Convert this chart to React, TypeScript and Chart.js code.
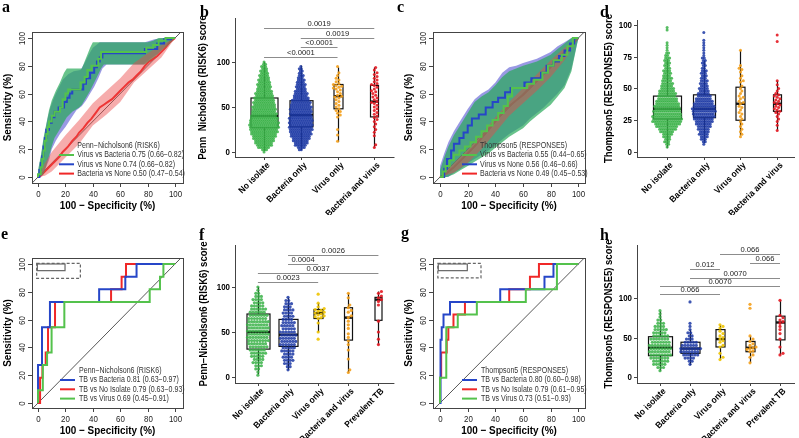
import React, { useEffect, useRef } from "react";
import { Chart, registerables } from "chart.js";
Chart.register(...registerables);

type Pt = [number, number];
type Box5 = [number, number, number, number, number]; // lo, q1, median, q3, hi
interface Profile { start: number; step: number; counts: number[] }

// ---------------- shared data ----------------
const rocTicks = [0, 20, 40, 60, 80, 100];
const catsAll = ["No isolate", "Bacteria only", "Virus only", "Bacteria and virus"];
const catsTB = ["No isolate", "Bacteria only", "Virus only", "Bacteria and virus", "Prevalent TB"];

// ---------------- panel a (RISK6 ROC, all) ----------------
const rocA_virusBacteria: Pt[] = [[0,0],[0,2],[2,2],[2,7],[3,7],[3,13],[4,13],[4,19],[5,19],[5,26],[6,26],[6,31],[7,31],[7,36],[8,36],[8,40],[10,40],[10,44],[12,44],[12,47],[16,47],[16,50],[18,50],[18,56],[20,56],[20,60],[22,60],[22,63],[31,63],[31,68],[34,68],[34,72],[36,72],[36,77],[39,77],[39,80],[44,80],[44,85],[46,85],[46,90],[79,90],[79,93],[84,93],[84,95],[88,95],[88,98],[93,98],[93,100],[100,100]];
const rocA_virusNone: Pt[] = [[0,0],[1,0],[1,5],[2,5],[2,10],[3,10],[3,15],[4,15],[4,22],[5,22],[5,28],[6,28],[6,34],[8,34],[8,39],[10,39],[10,43],[12,43],[12,47],[15,47],[15,50],[19,50],[19,54],[21,54],[21,57],[23,57],[23,60],[25,60],[25,63],[33,63],[33,67],[35,67],[35,71],[38,71],[38,75],[41,75],[41,79],[43,79],[43,83],[45,83],[45,86],[47,86],[47,89],[78,89],[78,92],[87,92],[87,96],[92,96],[92,99],[97,99],[97,100],[100,100]];
const rocA_bacteriaNone: Pt[] = [[0,0],[2,1],[4,3],[6,5],[8,7],[10,9],[12,11],[14,13],[16,15],[18,18],[20,20],[22,22],[25,26],[28,29],[30,32],[33,35],[36,39],[39,42],[42,46],[45,50],[48,52],[51,54],[54,56],[57,59],[60,62],[63,65],[66,68],[69,70],[72,73],[75,76],[78,80],[81,83],[84,85],[87,87],[90,90],[93,93],[96,97],[100,100]];
const bandA_virusBacteria_up: Pt[] = [[0,0],[0,5],[2,15],[4,28],[6,38],[8,48],[10,55],[13,62],[16,68],[19,75],[21,78],[32,78],[34,83],[36,88],[38,93],[40,97],[80,97],[84,98],[88,100],[100,100]];
const bandA_virusBacteria_lo: Pt[] = [[0,0],[4,2],[6,8],[8,15],[10,22],[12,28],[15,33],[18,38],[21,43],[25,47],[30,50],[32,52],[35,57],[38,62],[40,66],[43,72],[46,78],[48,81],[78,81],[82,84],[86,87],[90,91],[95,95],[100,100]];
const bandA_virusNone_up: Pt[] = [[0,0],[1,8],[3,20],[5,32],[7,42],[9,50],[12,58],[15,64],[18,70],[22,74],[26,76],[31,77],[34,82],[37,88],[40,93],[45,97],[78,97],[85,99],[92,100],[100,100]];
const bandA_virusNone_lo: Pt[] = [[0,0],[3,1],[5,5],[8,12],[10,20],[13,26],[16,31],[20,36],[24,42],[28,48],[32,51],[35,55],[38,60],[41,65],[44,71],[47,78],[50,81],[77,81],[82,85],[88,89],[93,94],[100,100]];
const bandA_bacteriaNone_up: Pt[] = [[0,0],[5,10],[10,18],[20,30],[30,41],[40,53],[50,62],[60,71],[70,82],[80,89],[90,95],[100,100]];
const bandA_bacteriaNone_lo: Pt[] = [[0,0],[5,1],[10,4],[20,14],[30,24],[40,37],[50,45],[60,54],[70,68],[80,77],[90,86],[100,100]];
const legendA = ["Virus vs Bacteria 0.75 (0.66\u22120.82)", "Virus vs None 0.74 (0.66\u22120.82)", "Bacteria vs None 0.50 (0.47\u22120.54)"];

// ---------------- panel c (RESPONSE5 ROC, all) ----------------
const rocC_virusBacteria: Pt[] = [[0,0],[2,0],[2,4],[4,4],[4,8],[7,8],[7,12],[10,12],[10,16],[14,16],[14,19],[18,19],[18,22],[22,22],[22,25],[26,25],[26,29],[30,29],[30,33],[34,33],[34,37],[38,37],[38,41],[42,41],[42,46],[46,46],[46,51],[49,51],[49,58],[52,58],[52,64],[63,64],[63,67],[68,67],[68,70],[74,70],[74,75],[78,75],[78,80],[82,80],[82,84],[88,84],[88,88],[92,88],[92,94],[96,94],[96,100],[100,100]];
const rocC_virusNone: Pt[] = [[0,0],[3,0],[3,6],[5,6],[5,13],[8,13],[8,19],[10,19],[10,24],[14,24],[14,28],[17,28],[17,32],[20,32],[20,37],[23,37],[23,42],[28,42],[28,45],[33,45],[33,50],[38,50],[38,54],[42,54],[42,57],[47,57],[47,61],[51,61],[51,64],[61,64],[61,68],[66,68],[66,71],[73,71],[73,75],[77,75],[77,80],[82,80],[82,83],[86,83],[86,87],[90,87],[90,91],[94,91],[94,96],[97,96],[97,100],[100,100]];
const rocC_bacteriaNone: Pt[] = [[0,0],[5,3],[10,7],[15,12],[20,17],[25,22],[30,28],[35,34],[40,40],[45,46],[50,51],[55,55],[60,59],[65,64],[70,69],[75,74],[80,79],[85,85],[90,90],[95,95],[100,100]];
const bandC_virusBacteria_up: Pt[] = [[0,0],[0,5],[3,14],[6,22],[10,30],[15,38],[20,46],[25,54],[30,58],[35,61],[40,66],[45,72],[50,76],[55,78],[60,80],[70,83],[80,88],[85,92],[90,96],[95,100],[100,100]];
const bandC_virusBacteria_lo: Pt[] = [[0,0],[5,0],[10,2],[15,5],[20,8],[25,11],[30,14],[35,17],[40,21],[45,25],[50,29],[55,32],[60,35],[65,40],[70,44],[75,48],[80,52],[85,58],[90,64],[95,76],[100,100]];
const bandC_virusNone_up: Pt[] = [[0,0],[0,8],[3,17],[6,25],[10,33],[15,41],[20,49],[25,56],[30,60],[35,63],[40,68],[45,75],[50,79],[55,80],[60,82],[70,85],[80,90],[85,94],[90,97],[95,100],[100,100]];
const bandC_virusNone_lo: Pt[] = [[0,0],[6,0],[10,3],[15,6],[20,10],[25,13],[30,16],[35,19],[40,23],[45,27],[50,31],[55,34],[60,37],[65,42],[70,46],[75,50],[80,55],[85,60],[90,66],[95,78],[100,100]];
const bandC_bacteriaNone_up: Pt[] = [[0,0],[10,10],[20,20],[30,31],[40,43],[50,54],[60,64],[70,74],[80,84],[90,93],[100,100]];
const bandC_bacteriaNone_lo: Pt[] = [[0,0],[10,3],[20,10],[30,20],[40,32],[50,44],[60,53],[70,62],[80,72],[90,84],[100,100]];
const legendC = ["Virus vs Bacteria 0.55 (0.44\u22120.65)", "Virus vs None 0.56 (0.46\u22120.66)", "Bacteria vs None 0.49 (0.45\u22120.53)"];

// ---------------- panel e (RISK6 ROC, TB) ----------------
const rocE_tbBacteria: Pt[] = [[0,0],[0,27.3],[2.9,27.3],[2.9,54.5],[8.7,54.5],[8.7,72.7],[44.6,72.7],[44.6,81.8],[63.7,81.8],[63.7,90.9],[71.9,90.9],[71.9,100],[100,100]];
const rocE_tbNoIsolate: Pt[] = [[0,0],[1.5,0],[1.5,18.2],[3.2,18.2],[3.2,27.3],[5.6,27.3],[5.6,36.4],[7.3,36.4],[7.3,54.5],[12.4,54.5],[12.4,72.7],[53.3,72.7],[53.3,81.8],[61,81.8],[61,90.9],[64.2,90.9],[64.2,100],[100,100]];
const rocE_tbVirus: Pt[] = [[0,0],[0,9.1],[3.5,9.1],[3.5,27.3],[6.6,27.3],[6.6,36.4],[9.9,36.4],[9.9,54.5],[19.2,54.5],[19.2,72.7],[81.5,72.7],[81.5,81.8],[89,81.8],[89,90.9],[91.5,90.9],[91.5,100],[100,100]];
const legendE = ["TB vs Bacteria 0.81 (0.63\u22120.97)", "TB vs No Isolate 0.79 (0.63\u22120.93)", "TB vs Virus 0.69 (0.45\u22120.91)"];

// ---------------- panel g (RESPONSE5 ROC, TB) ----------------
const rocG_tbBacteria: Pt[] = [[0,0],[0,18.2],[0.5,18.2],[0.5,45.5],[1.2,45.5],[1.2,54.5],[2.5,54.5],[2.5,63.6],[7.2,63.6],[7.2,72.7],[43.5,72.7],[43.5,81.8],[75.5,81.8],[75.5,90.9],[82,90.9],[82,100],[100,100]];
const rocG_tbNoIsolate: Pt[] = [[0,0],[0,18.2],[0.8,18.2],[0.8,36.4],[4.8,36.4],[4.8,45.5],[6,45.5],[6,54.5],[9.7,54.5],[9.7,63.6],[18,63.6],[18,72.7],[50,72.7],[50,81.8],[65,81.8],[65,90.9],[71.5,90.9],[71.5,100],[100,100]];
const rocG_tbVirus: Pt[] = [[0,0],[0,18.2],[4.5,18.2],[4.5,54.5],[12.8,54.5],[12.8,63.6],[26.6,63.6],[26.6,72.7],[62,72.7],[62,81.8],[84.5,81.8],[84.5,100],[100,100]];
const legendG = ["TB vs Bacteria 0.80 (0.60\u22120.98)", "TB vs No Isolate 0.79 (0.61\u22120.95)", "TB vs Virus 0.73 (0.51\u22120.93)"];

// inset rectangles (data units: x1, y1, x2, y2)
const insetSolidE = [-0.5, 95.2, 19.7, 100];
const insetDashedE = [-1, 89.7, 30.9, 100.5];
const insetSolidG = [-1.3, 95.2, 19.7, 100];
const insetDashedG = [-1.6, 90, 29.6, 100.5];

// ---------------- panel b (RISK6 score, all) ----------------
const riskAll_noIsolate: Profile = { start: 0, step: 2.5, counts: [1,3,6,8,9,10,11,12,13,14,14,15,15,15,14,14,13,13,12,12,12,11,11,10,10,9,9,8,7,7,7,6,6,5,5,4,4,3,3,2,1] };
const riskAll_bacteriaOnly: Profile = { start: 2.5, step: 2.5, counts: [2,4,6,7,8,9,10,11,11,12,12,12,12,12,12,11,11,11,11,11,10,10,9,8,7,7,6,5,5,5,4,4,3,3,2,2,2,1] };
const riskAll_virusOnly = [95, 88, 85, 82, 80, 78, 76, 75, 74, 73, 72, 71, 70, 69, 67, 65, 63, 62, 61, 60, 58, 56, 54, 52, 50, 48, 46, 45, 43, 41, 39, 25, 19, 12];
const riskAll_bacteriaVirus = [94, 91, 88, 86, 84, 82, 80, 78, 76, 75, 74, 72, 70, 68, 67, 65, 63, 61, 60, 58, 56, 55, 54, 52, 50, 48, 46, 44, 42, 40, 38, 36, 34, 31, 28, 25, 22, 18, 8, 5];
const riskAll_boxes: Box5[] = [[1, 27, 40, 60, 100], [2, 28, 41, 57, 96], [11, 48, 62, 75, 94], [5, 39, 56, 74, 94]];
const riskAll_ticks = [0, 50, 100];
const riskAll_sig = [
  { from: 1, to: 3, y: 106, label: "<0.0001" },
  { from: 2, to: 3, y: 116.5, label: "<0.0001" },
  { from: 2, to: 4, y: 127, label: "0.0019" },
  { from: 1, to: 4, y: 137.5, label: "0.0019" },
];

// ---------------- panel d (RESPONSE5 score, all) ----------------
const thAll_noIsolate: Profile = { start: 4, step: 2, counts: [1,2,3,3,4,5,7,9,11,13,15,15,15,14,14,13,13,12,11,10,9,9,8,7,6,6,5,5,4,4,4,3,3,3,3,3,2,2,1,1,1,1,0,0,0,0,1,1] };
const thAll_bacteriaOnly: Profile = { start: 6, step: 2, counts: [1,2,3,4,5,5,6,7,8,9,10,11,11,12,12,11,10,9,8,7,6,5,5,4,4,4,3,3,3,3,2,2,2,2,2,1,1,1,1,1,1,1,0,0,1] };
const thAll_virusOnly = [80, 68, 66, 65, 63, 60, 58, 56, 55, 52, 50, 48, 46, 44, 43, 42, 40, 39, 38, 36, 35, 33, 31, 30, 28, 26, 24, 22, 20, 18, 16, 14, 12];
const thAll_bacteriaVirus = [92, 87, 56, 53, 50, 48, 46, 45, 44, 43, 42, 41, 40, 39, 38, 37, 36, 35, 34, 33, 32, 31, 30, 28, 26, 24, 21, 17];
const thAll_boxes: Box5[] = [[3, 26, 34, 44, 73], [7, 27, 34, 45, 72], [13, 25, 38, 51, 80], [17, 32, 38, 45, 56]];
const thAll_ticks = [0, 25, 50, 75, 100];

// ---------------- panel f (RISK6 score, TB) ----------------
const riskTB_noIsolate: Profile = { start: 2, step: 3.5, counts: [1,1,2,3,4,4,5,6,6,7,7,8,8,8,8,8,8,8,7,7,6,6,5,4,4,3,2,1,1] };
const riskTB_bacteriaOnly: Profile = { start: 8, step: 3.5, counts: [1,2,3,4,4,4,5,5,6,6,6,6,6,5,5,5,4,4,4,4,3,3,2,1] };
const riskTB_virusOnly = [92, 82, 78, 76, 75, 74, 73, 72, 71, 70, 69, 68, 67, 66, 65, 60, 50, 42];
const riskTB_bacteriaVirus = [93, 88, 80, 77, 74, 72, 68, 66, 62, 58, 54, 48, 44, 40, 36, 30, 20, 8, 5];
const riskTB_prevalentTB = [95, 93, 90, 88, 86, 84, 80, 62, 50, 42, 36];
const riskTB_boxes: Box5[] = [[3, 31, 50, 70, 100], [8, 34, 47, 64, 88], [50, 65, 71, 75, 82], [5, 41, 66, 77, 93], [36, 63, 86, 88.5, 95]];
const riskTB_ticks = [0, 50, 100];
const riskTB_sig = [
  { from: 1, to: 3, y: 105.5, label: "0.0023" },
  { from: 1, to: 5, y: 115.5, label: "0.0037" },
  { from: 2, to: 3, y: 125.5, label: "0.0004" },
  { from: 2, to: 5, y: 135.5, label: "0.0026" },
];

// ---------------- panel h (RESPONSE5 score, TB) ----------------
const thTB_noIsolate: Profile = { start: 8, step: 4, counts: [1,3,5,6,7,8,8,8,8,7,7,6,5,5,4,3,2,1,1,1] };
const thTB_bacteriaOnly: Profile = { start: 16, step: 4, counts: [1,2,4,6,7,8,6,5,3,2,2,1,1,1] };
const thTB_bacteriaOnlyOutliers = [95];
const thTB_virusOnly = [66, 64, 62, 58, 55, 52, 50, 48, 46, 44, 40, 38, 30, 25, 22];
const thTB_bacteriaVirus = [92, 87, 52, 48, 45, 42, 40, 38, 37, 36, 35, 33, 32, 28, 25, 18];
const thTB_prevalentTB = [97, 78, 75, 72, 70, 68, 64, 60, 55, 48, 38, 30, 28];
const thTB_boxes: Box5[] = [[8, 27, 37, 51, 83], [15, 30, 36, 44, 60], [22, 38, 48, 60, 66], [18, 32, 37, 45, 52], [28, 47, 69, 77, 97]];
const thTB_ticks = [0, 50, 100];
const thTB_sig = [
  { from: 1, to: 3, y: 105, label: "0.066" },
  { from: 1, to: 5, y: 115, label: "0.0070" },
  { from: 2, to: 5, y: 125.3, label: "0.0070" },
  { from: 2, to: 3, y: 136.7, label: "0.012" },
  { from: 4, to: 5, y: 144.5, label: "0.066" },
  { from: 3, to: 5, y: 155.7, label: "0.066" },
];

// ---------------- styles ----------------
const SANS = "'Liberation Sans', Arial, Helvetica, sans-serif";
const SERIF = "'Liberation Serif', 'Times New Roman', serif";
const C_GREEN = "rgba(58,178,72,0.85)";
const C_BLUE = "rgba(28,56,165,0.85)";
const C_ORANGE = "rgba(244,160,28,0.9)";
const C_RED = "rgba(228,26,34,0.9)";
const C_YELLOW = "rgba(240,196,0,0.9)";
const L_GREEN = "rgb(84,194,76)";
const L_BLUE = "rgb(38,70,200)";
const L_RED = "rgb(240,40,40)";
const B_GREEN = "rgba(40,170,90,0.7)";
const B_BLUE = "rgba(70,70,205,0.55)";
const B_RED = "rgba(236,70,70,0.45)";

interface Rect { left: number; top: number; width: number; height: number }
interface Area { l: number; t: number; r: number; b: number }

function drawText(ctx: CanvasRenderingContext2D, s: string, x: number, y: number, font: string,
  o: { align?: CanvasTextAlign; base?: CanvasTextBaseline; rot?: number; sx?: number; color?: string } = {}) {
  ctx.save();
  ctx.translate(x, y);
  if (o.rot) ctx.rotate(o.rot);
  ctx.scale(o.sx ?? 1, 1);
  ctx.font = font;
  ctx.fillStyle = o.color ?? "#000";
  ctx.textAlign = o.align ?? "left";
  ctx.textBaseline = o.base ?? "alphabetic";
  ctx.fillText(s, 0, 0);
  ctx.restore();
}

function line(ctx: CanvasRenderingContext2D, x1: number, y1: number, x2: number, y2: number) {
  ctx.beginPath();
  ctx.moveTo(x1, y1);
  ctx.lineTo(x2, y2);
  ctx.stroke();
}

function padding(cv: Rect, a: Area) {
  return { left: a.l - cv.left, top: a.t - cv.top, right: cv.left + cv.width - a.r, bottom: cv.top + cv.height - a.b };
}

// ---------------- ROC panel ----------------
interface RocSpec {
  canvas: Rect; area: Area; xRange: [number, number]; yRange: [number, number];
  letter: string; letterPos: [number, number];
  curves: { pts: Pt[]; color: string; order: number }[];
  bands: { up: Pt[]; lo: Pt[]; color: string; order: number }[];
  legendTitle: string; legend: { text: string; color: string }[];
  legendX: number; segX: [number, number];
  inset?: { solid: number[]; dashed: number[] };
}

function RocPanel({ spec }: { spec: RocSpec }) {
  const ref = useRef<HTMLCanvasElement>(null);
  useEffect(() => {
    const cv = spec.canvas;
    const ox = cv.left, oy = cv.top;
    const datasets: any[] = [];
    spec.curves.forEach((c) => datasets.push({
      data: c.pts.map(([x, y]) => ({ x, y })), borderColor: c.color, borderWidth: 2, pointRadius: 0,
      fill: false, tension: 0, order: c.order, borderJoinStyle: "miter", borderCapStyle: "butt",
    }));
    spec.bands.forEach((b) => datasets.push({
      data: [...b.up, ...b.lo.slice().reverse()].map(([x, y]) => ({ x, y })), borderWidth: 0,
      borderColor: "rgba(0,0,0,0)", backgroundColor: b.color, fill: "shape", pointRadius: 0, tension: 0, order: b.order,
    }));
    const plugin = {
      id: "rocDecor",
      beforeDatasetsDraw(chart: any) {
        const { ctx, chartArea: a, scales: { x, y } } = chart;
        ctx.save();
        ctx.beginPath();
        ctx.rect(a.left, a.top, a.right - a.left, a.bottom - a.top);
        ctx.clip();
        ctx.strokeStyle = "#444";
        ctx.lineWidth = 0.9;
        const lo = Math.min(x.min, y.min), hi = Math.max(x.max, y.max);
        line(ctx, x.getPixelForValue(lo), y.getPixelForValue(lo), x.getPixelForValue(hi), y.getPixelForValue(hi));
        ctx.restore();
      },
      afterDraw(chart: any) {
        const { ctx, chartArea: a, scales: { x, y } } = chart;
        ctx.save();
        ctx.strokeStyle = "#444";
        ctx.lineWidth = 1;
        ctx.strokeRect(Math.round(a.left) + 0.5, Math.round(a.top) + 0.5, Math.round(a.right - a.left), Math.round(a.bottom - a.top));
        for (const v of rocTicks) {
          const px = Math.round(x.getPixelForValue(v)) + 0.5;
          line(ctx, px, a.bottom, px, a.bottom + 4);
          drawText(ctx, String(v), px, a.bottom + 14, `9px ${SANS}`, { align: "center", sx: 0.88, color: "#222" });
          const py = Math.round(y.getPixelForValue(v)) + 0.5;
          line(ctx, a.left - 4, py, a.left, py);
          drawText(ctx, String(v), a.left - 7, py, `9px ${SANS}`, { align: "center", rot: -Math.PI / 2, sx: 0.88, color: "#222" });
        }
        drawText(ctx, "Sensitivity (%)", a.left - 21, (a.top + a.bottom) / 2, `bold 11px ${SANS}`, { align: "center", rot: -Math.PI / 2, sx: 0.9 });
        drawText(ctx, "100 \u2212 Specificity (%)", (a.left + a.right) / 2, a.bottom + 26, `bold 11px ${SANS}`, { align: "center", sx: 0.9 });
        const lx = spec.legendX - ox;
        drawText(ctx, spec.legendTitle, lx, a.bottom - 37.3, `8.3px ${SANS}`, { base: "middle", sx: 0.85, color: "#333" });
        spec.legend.forEach((e, i) => {
          const ly = a.bottom - 28 + i * 9.3;
          ctx.strokeStyle = e.color;
          ctx.lineWidth = 2;
          line(ctx, spec.segX[0] - ox, ly, spec.segX[1] - ox, ly);
          drawText(ctx, e.text, lx, ly, `8.3px ${SANS}`, { base: "middle", sx: 0.85, color: "#333" });
        });
        if (spec.inset) {
          const s = spec.inset.solid, d = spec.inset.dashed;
          ctx.strokeStyle = "#666";
          ctx.lineWidth = 1.2;
          ctx.strokeRect(x.getPixelForValue(s[0]), y.getPixelForValue(s[3]), x.getPixelForValue(s[2]) - x.getPixelForValue(s[0]), y.getPixelForValue(s[1]) - y.getPixelForValue(s[3]));
          ctx.setLineDash([3, 2]);
          ctx.strokeRect(x.getPixelForValue(d[0]), y.getPixelForValue(d[3]), x.getPixelForValue(d[2]) - x.getPixelForValue(d[0]), y.getPixelForValue(d[1]) - y.getPixelForValue(d[3]));
          ctx.setLineDash([]);
        }
        drawText(ctx, spec.letter, spec.letterPos[0] - ox, spec.letterPos[1] - oy, `bold 16px ${SERIF}`);
        ctx.restore();
      },
    };
    const chart = new Chart(ref.current!, {
      type: "line",
      data: { datasets },
      options: {
        responsive: false, animation: false, devicePixelRatio: 1, events: [],
        layout: { padding: padding(cv, spec.area) },
        plugins: { legend: { display: false }, tooltip: { enabled: false } },
        scales: {
          x: { type: "linear", display: false, min: spec.xRange[0], max: spec.xRange[1] },
          y: { type: "linear", display: false, min: spec.yRange[0], max: spec.yRange[1] },
        },
      },
      plugins: [plugin],
    } as any);
    return () => chart.destroy();
  }, []);
  const cv = spec.canvas;
  return <canvas ref={ref} width={cv.width} height={cv.height} style={{ position: "absolute", left: cv.left, top: cv.top, width: cv.width, height: cv.height }} />;
}

// ---------------- box + swarm panel ----------------
interface Group { color: string; profile?: Profile; values?: number[] }
interface BoxSpec {
  canvas: Rect; area: Area; xRange: [number, number]; yRange: [number, number];
  letter: string; letterPos: [number, number];
  cats: string[]; groups: Group[]; boxes: Box5[]; boxW: number[];
  ticks: number[]; sig: { from: number; to: number; y: number; label: string }[];
  title: string; titleX: number;
  dotR: number; dx: number; dSwarm: number;
}

function swarmOffsets(vals: number[], pxPerY: number, d: number): number[] {
  const order = vals.map((_, i) => i).sort((a, b) => vals[a] - vals[b]);
  const placed: [number, number][] = [];
  const out = new Array(vals.length).fill(0);
  for (const i of order) {
    const yy = vals[i] * pxPerY;
    let chosen = 0;
    for (let k = 0; k < 80; k++) {
      const cand = k === 0 ? 0 : (k % 2 ? 1 : -1) * Math.ceil(k / 2) * d * 0.5;
      let ok = true;
      for (const [px, py] of placed) {
        if (Math.hypot(px - cand, py - yy) < d) { ok = false; break; }
      }
      if (ok) { chosen = cand; break; }
    }
    placed.push([chosen, yy]);
    out[i] = chosen;
  }
  return out;
}

function BoxPanel({ spec }: { spec: BoxSpec }) {
  const ref = useRef<HTMLCanvasElement>(null);
  useEffect(() => {
    const cv = spec.canvas;
    const ox = cv.left, oy = cv.top;
    const a = spec.area;
    const pxPerX = (a.r - a.l) / (spec.xRange[1] - spec.xRange[0]);
    const pxPerY = (a.b - a.t) / (spec.yRange[1] - spec.yRange[0]);
    const datasets = spec.groups.map((g, gi) => {
      const cat = gi + 1;
      const pts: { x: number; y: number }[] = [];
      if (g.profile) {
        const p = g.profile;
        p.counts.forEach((n, k) => {
          const v = p.start + k * p.step;
          const shift = (k % 2 ? 0.25 : -0.25) * spec.dx;
          for (let j = 0; j < n; j++) pts.push({ x: cat + ((j - (n - 1) / 2) * spec.dx + (n > 1 ? shift : 0)) / pxPerX, y: v });
        });
      }
      if (g.values) {
        const offs = swarmOffsets(g.values, pxPerY, spec.dSwarm);
        g.values.forEach((v, i) => pts.push({ x: cat + offs[i] / pxPerX, y: v }));
      }
      return { data: pts, pointRadius: spec.dotR, pointBackgroundColor: g.color, pointBorderWidth: 0, pointHoverRadius: 0, showLine: false };
    });
    const plugin = {
      id: "boxDecor",
      beforeDatasetsDraw(chart: any) {
        const { ctx, scales: { x, y } } = chart;
        ctx.save();
        ctx.strokeStyle = "#111";
        spec.boxes.forEach((bx, i) => {
          const cx = Math.round(x.getPixelForValue(i + 1)) + 0.5;
          const w = spec.boxW[i];
          const [lo, q1, med, q3, hi] = bx.map((v) => y.getPixelForValue(v));
          ctx.lineWidth = 1.2;
          line(ctx, cx, lo, cx, q1);
          line(ctx, cx, q3, cx, hi);
          ctx.strokeRect(cx - w / 2, q3, w, q1 - q3);
          ctx.lineWidth = 2.4;
          line(ctx, cx - w / 2, med, cx + w / 2, med);
        });
        ctx.restore();
      },
      afterDraw(chart: any) {
        const { ctx, chartArea: ca, scales: { x, y } } = chart;
        ctx.save();
        ctx.strokeStyle = "#444";
        ctx.lineWidth = 1;
        line(ctx, Math.round(ca.left) + 0.5, ca.top, Math.round(ca.left) + 0.5, ca.bottom + 0.5);
        line(ctx, ca.left, Math.round(ca.bottom) + 0.5, ca.right, Math.round(ca.bottom) + 0.5);
        for (const v of spec.ticks) {
          const py = Math.round(y.getPixelForValue(v)) + 0.5;
          line(ctx, ca.left - 3, py, ca.left, py);
          drawText(ctx, String(v), ca.left - 5, py, `bold 9px ${SANS}`, { align: "right", base: "middle", sx: 0.88 });
        }
        spec.cats.forEach((c, i) => {
          const px = Math.round(x.getPixelForValue(i + 1)) + 0.5;
          line(ctx, px, ca.bottom, px, ca.bottom + 3);
          drawText(ctx, c, px + 4, ca.bottom + 7, `bold 9px ${SANS}`, { align: "right", base: "middle", rot: -Math.PI / 4, sx: 0.93 });
        });
        for (const s of spec.sig) {
          const py = Math.round(y.getPixelForValue(s.y)) + 0.5;
          const x1 = x.getPixelForValue(s.from), x2 = x.getPixelForValue(s.to);
          ctx.strokeStyle = "#8c8c8c";
          ctx.lineWidth = 1;
          line(ctx, x1, py, x2, py);
          drawText(ctx, s.label, (x1 + x2) / 2, py - 2.5, `8px ${SANS}`, { align: "center", sx: 0.95, color: "#222" });
        }
        drawText(ctx, spec.title, spec.titleX - ox, (ca.top + ca.bottom) / 2, `bold 10px ${SANS}`, { align: "center", base: "middle", rot: -Math.PI / 2, sx: 0.95 });
        drawText(ctx, spec.letter, spec.letterPos[0] - ox, spec.letterPos[1] - oy, `bold 16px ${SERIF}`);
        ctx.restore();
      },
    };
    const chart = new Chart(ref.current!, {
      type: "scatter",
      data: { datasets },
      options: {
        responsive: false, animation: false, devicePixelRatio: 1, events: [],
        layout: { padding: padding(cv, spec.area) },
        plugins: { legend: { display: false }, tooltip: { enabled: false } },
        scales: {
          x: { type: "linear", display: false, min: spec.xRange[0], max: spec.xRange[1] },
          y: { type: "linear", display: false, min: spec.yRange[0], max: spec.yRange[1] },
        },
      },
      plugins: [plugin],
    } as any);
    return () => chart.destroy();
  }, []);
  const cv = spec.canvas;
  return <canvas ref={ref} width={cv.width} height={cv.height} style={{ position: "absolute", left: cv.left, top: cv.top, width: cv.width, height: cv.height }} />;
}

// ---------------- specs ----------------
// order: higher = drawn earlier (further back)
const specA: RocSpec = {
  canvas: { left: 0, top: 0, width: 196, height: 215 }, area: { l: 32, t: 32, r: 183, b: 183 },
  xRange: [-4.4, 105.8], yRange: [-4.3, 104.3], letter: "a", letterPos: [2, 12],
  curves: [
    { pts: rocA_virusBacteria, color: L_GREEN, order: 0 },
    { pts: rocA_virusNone, color: L_BLUE, order: 1 },
    { pts: rocA_bacteriaNone, color: L_RED, order: 40 },
  ],
  bands: [
    { up: bandA_virusNone_up, lo: bandA_virusNone_lo, color: B_BLUE, order: 30 },
    { up: bandA_virusBacteria_up, lo: bandA_virusBacteria_lo, color: B_GREEN, order: 29 },
    { up: bandA_bacteriaNone_up, lo: bandA_bacteriaNone_lo, color: B_RED, order: 28 },
  ],
  legendTitle: "Penn\u2212Nicholson6 (RISK6)",
  legend: [{ text: legendA[0], color: L_GREEN }, { text: legendA[1], color: L_BLUE }, { text: legendA[2], color: L_RED }],
  legendX: 77.3, segX: [59, 74],
};
const specC: RocSpec = {
  canvas: { left: 396, top: 0, width: 200, height: 215 }, area: { l: 433, t: 32, r: 585, b: 183 },
  xRange: [-5.1, 104.8], yRange: [-4.3, 104.3], letter: "c", letterPos: [397, 12],
  curves: [
    { pts: rocC_virusBacteria, color: L_GREEN, order: 0 },
    { pts: rocC_virusNone, color: L_BLUE, order: 1 },
    { pts: rocC_bacteriaNone, color: L_RED, order: 40 },
  ],
  bands: [
    { up: bandC_virusNone_up, lo: bandC_virusNone_lo, color: B_BLUE, order: 30 },
    { up: bandC_virusBacteria_up, lo: bandC_virusBacteria_lo, color: B_GREEN, order: 29 },
    { up: bandC_bacteriaNone_up, lo: bandC_bacteriaNone_lo, color: B_RED, order: 28 },
  ],
  legendTitle: "Thompson5 (RESPONSE5)",
  legend: [{ text: legendC[0], color: L_GREEN }, { text: legendC[1], color: L_BLUE }, { text: legendC[2], color: L_RED }],
  legendX: 480, segX: [462, 477],
};
const specE: RocSpec = {
  canvas: { left: 0, top: 215, width: 196, height: 223 }, area: { l: 32, t: 258, r: 183, b: 408 },
  xRange: [-4.4, 105.8], yRange: [-3.6, 104.3], letter: "e", letterPos: [1, 239],
  curves: [
    { pts: rocE_tbVirus, color: L_GREEN, order: 0 },
    { pts: rocE_tbBacteria, color: L_BLUE, order: 1 },
    { pts: rocE_tbNoIsolate, color: L_RED, order: 2 },
  ],
  bands: [],
  legendTitle: "Penn\u2212Nicholson6 (RISK6)",
  legend: [{ text: legendE[0], color: L_BLUE }, { text: legendE[1], color: L_RED }, { text: legendE[2], color: L_GREEN }],
  legendX: 79, segX: [60, 75],
  inset: { solid: insetSolidE, dashed: insetDashedE },
};
const specG: RocSpec = {
  canvas: { left: 396, top: 215, width: 200, height: 223 }, area: { l: 433, t: 258, r: 585, b: 408 },
  xRange: [-5.1, 104.8], yRange: [-3.6, 104.3], letter: "g", letterPos: [401, 238],
  curves: [
    { pts: rocG_tbVirus, color: L_GREEN, order: 0 },
    { pts: rocG_tbBacteria, color: L_BLUE, order: 1 },
    { pts: rocG_tbNoIsolate, color: L_RED, order: 2 },
  ],
  bands: [],
  legendTitle: "Thompson5 (RESPONSE5)",
  legend: [{ text: legendG[0], color: L_BLUE }, { text: legendG[1], color: L_RED }, { text: legendG[2], color: L_GREEN }],
  legendX: 481, segX: [462, 477],
  inset: { solid: insetSolidG, dashed: insetDashedG },
};

const specB: BoxSpec = {
  canvas: { left: 196, top: 0, width: 200, height: 215 }, area: { l: 235, t: 18, r: 395, b: 157 },
  xRange: [0.21, 4.55], yRange: [-5.56, 148.9], letter: "b", letterPos: [200, 17],
  cats: catsAll,
  groups: [
    { color: C_GREEN, profile: riskAll_noIsolate },
    { color: C_BLUE, profile: riskAll_bacteriaOnly },
    { color: C_ORANGE, values: riskAll_virusOnly },
    { color: C_RED, values: riskAll_bacteriaVirus },
  ],
  boxes: riskAll_boxes, boxW: [27, 23, 9, 8], ticks: riskAll_ticks, sig: riskAll_sig,
  title: "Penn  Nicholson6 (RISK6) score", titleX: 203, dotR: 1.5, dx: 2, dSwarm: 2.8,
};
const specD: BoxSpec = {
  canvas: { left: 596, top: 0, width: 203, height: 215 }, area: { l: 637, t: 20, r: 795, b: 157 },
  xRange: [0.18, 4.485], yRange: [-3.94, 103.9], letter: "d", letterPos: [600, 17],
  cats: catsAll,
  groups: [
    { color: C_GREEN, profile: thAll_noIsolate },
    { color: C_BLUE, profile: thAll_bacteriaOnly },
    { color: C_ORANGE, values: thAll_virusOnly },
    { color: C_RED, values: thAll_bacteriaVirus },
  ],
  boxes: thAll_boxes, boxW: [28, 22, 9, 8], ticks: thAll_ticks, sig: [],
  title: "Thompson5 (RESPONSE5) score", titleX: 609, dotR: 1.5, dx: 2, dSwarm: 2.8,
};
const specF: BoxSpec = {
  canvas: { left: 196, top: 215, width: 200, height: 223 }, area: { l: 235, t: 245, r: 395, b: 383 },
  xRange: [0.24, 5.53], yRange: [-6.67, 146.7], letter: "f", letterPos: [199, 240],
  cats: catsTB,
  groups: [
    { color: C_GREEN, profile: riskTB_noIsolate },
    { color: C_BLUE, profile: riskTB_bacteriaOnly },
    { color: C_YELLOW, values: riskTB_virusOnly },
    { color: C_ORANGE, values: riskTB_bacteriaVirus },
    { color: C_RED, values: riskTB_prevalentTB },
  ],
  boxes: riskTB_boxes, boxW: [23, 19, 9, 8, 7], ticks: riskTB_ticks, sig: riskTB_sig,
  title: "Penn\u2212Nicholson6 (RISK6) score", titleX: 204, dotR: 1.6, dx: 2.8, dSwarm: 3,
};
const specH: BoxSpec = {
  canvas: { left: 596, top: 215, width: 203, height: 223 }, area: { l: 637, t: 245, r: 795, b: 383 },
  xRange: [0.233, 5.5], yRange: [-7.6, 167.1], letter: "h", letterPos: [600, 240],
  cats: catsTB,
  groups: [
    { color: C_GREEN, profile: thTB_noIsolate },
    { color: C_BLUE, profile: thTB_bacteriaOnly, values: thTB_bacteriaOnlyOutliers },
    { color: C_YELLOW, values: thTB_virusOnly },
    { color: C_ORANGE, values: thTB_bacteriaVirus },
    { color: C_RED, values: thTB_prevalentTB },
  ],
  boxes: thTB_boxes, boxW: [24, 19, 9, 9, 9], ticks: thTB_ticks, sig: thTB_sig,
  title: "Thompson5 (RESPONSE5) score", titleX: 609, dotR: 1.6, dx: 2.8, dSwarm: 3,
};

export default function App() {
  return (
    <div style={{ position: "absolute", left: 0, top: 0, width: 799, height: 438, background: "#fff", overflow: "hidden" }}>
      <RocPanel spec={specA} />
      <BoxPanel spec={specB} />
      <RocPanel spec={specC} />
      <BoxPanel spec={specD} />
      <RocPanel spec={specE} />
      <BoxPanel spec={specF} />
      <RocPanel spec={specG} />
      <BoxPanel spec={specH} />
    </div>
  );
}
